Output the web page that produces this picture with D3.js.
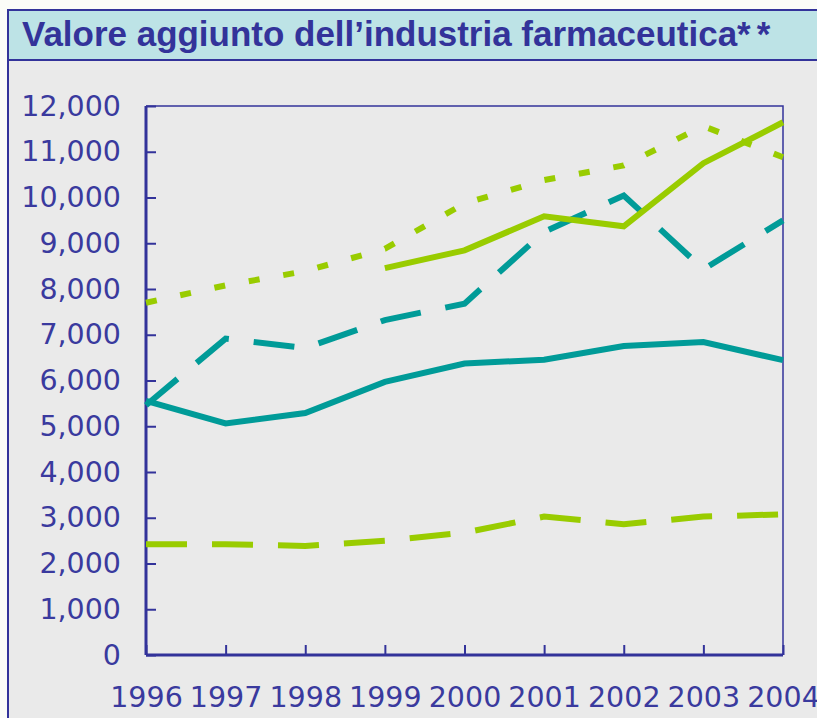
<!DOCTYPE html>
<html>
<head>
<meta charset="utf-8">
<script src="https://cdn.jsdelivr.net/npm/d3@7"></script>
<style>
	html, body { margin: 0; padding: 0; background: #fbfcf8; }
	svg { display: block; }
</style>
</head>
<body>
<svg id="chart" width="817" height="718"></svg>
<script>
'use strict';

const titleMain = 'Valore aggiunto dell\u2019industria farmaceutica';
const titleNote = '**';
const years = ['1996', '1997', '1998', '1999', '2000', '2001', '2002', '2003', '2004'];
const yTicks = [0, 1000, 2000, 3000, 4000, 5000, 6000, 7000, 8000, 9000, 10000, 11000, 12000];

// series (null = no value)
const tealSolid  = [5555, 5060, 5290, 5970, 6370, 6455, 6755, 6840, 6445];
const tealDash   = [5460, 6915, 6710, 7320, 7680, 9250, 10045, 8430, 9500];
const limeSolid  = [null, null, null, 8455, 8845, 9590, 9370, 10750, 11645];
const limeDot    = [7700, 8080, 8390, 8880, 9870, 10380, 10700, 11560, 10880];
const limeDash   = [2420, 2420, 2385, 2495, 2675, 3025, 2860, 3025, 3075];

const teal = '#009b98';
const lime = '#99cc00';
const navy = '#33339a';

const series = [
	{values: limeDash, color: lime, dash: '41,25'},
	{values: tealSolid, color: teal, dash: null},
	{values: tealDash, color: teal, dash: '41,25'},
	{values: limeSolid, color: lime, dash: null},
	{values: limeDot, color: lime, dash: '11,24'},
];

const $svg = d3.select('#chart');

// frame
$svg.append('rect')
	.attr('x', 8).attr('y', 10)
	.attr('width', 830).attr('height', 730)
	.attr('fill', '#eaeaea')
	.attr('stroke', navy).attr('stroke-width', 2);

$svg.append('rect')
	.attr('x', 8).attr('y', 10)
	.attr('width', 830).attr('height', 50)
	.attr('fill', '#bde3e6')
	.attr('stroke', navy).attr('stroke-width', 2);

const $title = $svg.append('text')
	.attr('x', 22).attr('y', 46)
	.attr('fill', navy)
	.attr('font-family', '"Liberation Sans", Arial, sans-serif')
	.attr('font-weight', 'bold')
	.attr('font-size', 27);
$title.append('tspan').text(titleMain);
$title.append('tspan').text(titleNote).attr('letter-spacing', 6);
// stretch to reference width (asterisks end near x=772)
const tw = $title.node().getComputedTextLength();
$title.attr('font-size', 27 * 758 / tw);

const margin = {left: 146, top: 106, right: 783, bottom: 655};

const x = d3.scalePoint()
	.domain(years)
	.range([margin.left, margin.right]);

const y = d3.scaleLinear()
	.domain([0, 12000])
	.range([margin.bottom, margin.top]);

// plot box top and right
$svg.append('path')
	.attr('d', `M${margin.left},${margin.top}H${margin.right}V${margin.bottom}`)
	.attr('fill', 'none')
	.attr('stroke', navy)
	.attr('stroke-width', 1.5);

const fmt = d3.format(',');

const $yAxis = $svg.append('g')
	.attr('transform', `translate(${margin.left},0)`)
	.call(d3.axisLeft(y).tickValues(yTicks).tickSize(-10).tickPadding(25).tickFormat(fmt));

const $xAxis = $svg.append('g')
	.attr('transform', `translate(0,${margin.bottom})`)
	.call(d3.axisBottom(x).tickSize(-10).tickPadding(42));

[$yAxis, $xAxis].forEach($a => {
	$a.select('.domain').attr('stroke', navy).attr('stroke-width', 3);
	$a.selectAll('.tick line').attr('stroke', navy).attr('stroke-width', 2);
	$a.selectAll('.tick text')
		.attr('fill', '#3a3a9e')
		.attr('font-family', '"DejaVu Sans", Verdana, sans-serif')
		.attr('font-size', 28.5);
});
$yAxis.select('.domain').attr('d', `M0,${margin.top}V${margin.bottom}`);
$xAxis.select('.domain').attr('d', `M${margin.left},0H${margin.right}`);
$xAxis.selectAll('.tick text').attr('dy', '0.35em');

const line = d3.line()
	.defined(d => d != null)
	.x((d, i) => x(years[i]))
	.y(d => y(d));

$svg.append('g')
	.selectAll('path')
	.data(series)
	.join('path')
	.attr('d', d => line(d.values))
	.attr('fill', 'none')
	.attr('stroke', d => d.color)
	.attr('stroke-width', 6)
	.attr('stroke-dasharray', d => d.dash)
	.attr('stroke-linejoin', 'miter');
</script>
</body>
</html>
